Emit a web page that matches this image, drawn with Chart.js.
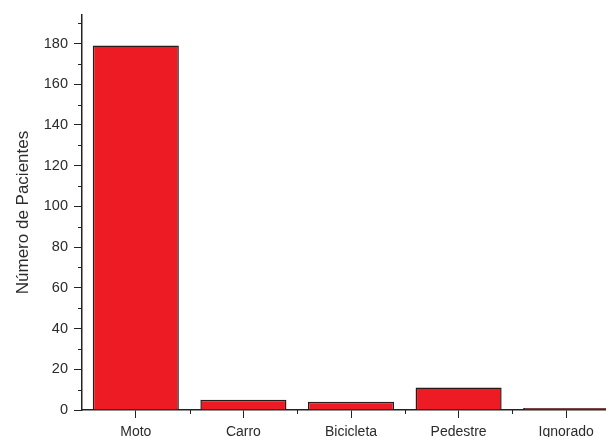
<!DOCTYPE html>
<html>
<head>
<meta charset="utf-8">
<script src="https://cdn.jsdelivr.net/npm/chart.js@4.4.1/dist/chart.umd.min.js"></script>
<style>
    html, body { margin: 0; padding: 0; background: #fff; overflow: hidden; }
    #wrap { width: 620px; height: 437px; }
</style>
</head>
<body>
<div id="wrap"><canvas id="chartCanvas"></canvas></div>
<script>
// patients per type of accident
const categories = ['Moto', 'Carro', 'Bicicleta', 'Pedestre', 'Ignorado'];
const patients = [179, 5, 4, 11, 1];
const yMajorTicks = [0, 20, 40, 60, 80, 100, 120, 140, 160, 180];
const yMinorTicks = [10, 30, 50, 70, 90, 110, 130, 150, 170, 190];

const axisColor = '#222';
const textColor = '#2b2b2b';

// short ticks: odd tens on y, category boundaries on x
const minorTicks = {
    id: 'minorTicks',
    afterDraw(chart) {
        let ctx = chart.ctx,
            x = chart.scales.x,
            y = chart.scales.y;
        ctx.save();
        ctx.strokeStyle = axisColor;
        ctx.lineWidth = 1;
        ctx.beginPath();
        for (let v of yMinorTicks) {
            let py = Math.round(y.getPixelForValue(v)) + 0.5;
            ctx.moveTo(x.left - 4, py);
            ctx.lineTo(x.left, py);
        }
        for (let i = 0; i < categories.length - 1; i++) {
            let px = Math.round((x.getPixelForValue(i) + x.getPixelForValue(i + 1)) / 2) + 0.5;
            ctx.moveTo(px, y.bottom);
            ctx.lineTo(px, y.bottom + 4);
        }
        ctx.stroke();
        ctx.restore();
    }
};

const chart = new Chart(document.getElementById('chartCanvas'), {
    type: 'bar',
    data: {
        labels: categories,
        datasets: [{
            label: 'Número de Pacientes',
            data: patients,
            backgroundColor: '#ed1c24',
            borderColor: '#2a1a1a',
            borderWidth: 1.5,
            borderSkipped: 'bottom',
            barPercentage: 0.8,
            categoryPercentage: 1.0
        }]
    },
    options: {
        responsive: true,
        maintainAspectRatio: false,
        animation: false,
        layout: { padding: { top: 15, right: 0, left: 0, bottom: 0 } },
        plugins: {
            legend: { display: false },
            tooltip: { enabled: false }
        },
        scales: {
            x: {
                grid: {
                    offset: false,
                    drawOnChartArea: false,
                    drawTicks: true,
                    tickLength: 8,
                    tickColor: axisColor
                },
                border: { display: true, color: axisColor, width: 1.5 },
                ticks: {
                    color: textColor,
                    padding: 6,
                    maxRotation: 0,
                    font: { family: 'Liberation Sans', size: 14 }
                },
                afterFit: (scale) => { scale.height = 27; }
            },
            y: {
                min: 0,
                max: 194,
                afterBuildTicks: (scale) => {
                    scale.ticks = yMajorTicks.map((v) => ({ value: v }));
                },
                grid: {
                    drawOnChartArea: false,
                    drawTicks: true,
                    tickLength: 8,
                    tickColor: axisColor
                },
                border: { display: true, color: axisColor, width: 1.5 },
                ticks: {
                    color: textColor,
                    padding: 6,
                    font: { family: 'Liberation Sans', size: 14.5 }
                },
                title: {
                    display: true,
                    text: 'Número de Pacientes',
                    color: textColor,
                    padding: { top: 13, bottom: 0 },
                    font: { family: 'Liberation Sans', size: 17 }
                },
                afterFit: (scale) => { scale.width = 82; }
            }
        }
    },
    plugins: [minorTicks]
});
</script>
</body>
</html>
